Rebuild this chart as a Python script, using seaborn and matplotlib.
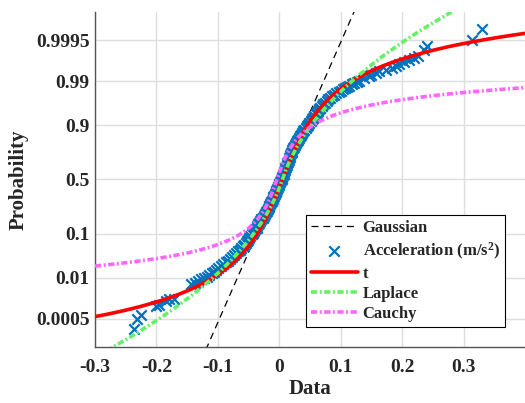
import math
from statistics import NormalDist
import numpy as np
import pandas as pd
import matplotlib
matplotlib.use("Agg")
import matplotlib.pyplot as plt
import seaborn as sns

# ---------------- data ----------------
# sorted acceleration samples (m/s^2) and their plotting probabilities
acc_values = [
    -0.237, -0.231, -0.225, -0.2005, -0.195, -0.184, -0.179, -0.171,
    -0.1436, -0.138, -0.133, -0.127, -0.118, -0.110, -0.103, -0.095,
    -0.087, -0.080, -0.073, -0.067, -0.062, -0.057, -0.053, -0.049,
    -0.045, -0.041, -0.037, -0.034, -0.031, -0.027, -0.024, -0.020,
    -0.017, -0.015, -0.012, -0.010, -0.007, -0.005, -0.002, 0.000,
    0.003, 0.005, 0.007, 0.009, 0.011, 0.013, 0.015, 0.017,
    0.019, 0.021, 0.024, 0.027, 0.030, 0.033, 0.037, 0.041,
    0.045, 0.049, 0.053, 0.057, 0.061, 0.065, 0.069, 0.074,
    0.080, 0.086, 0.093, 0.100, 0.107, 0.114, 0.122, 0.130,
    0.138, 0.146, 0.150, 0.157, 0.163, 0.1735, 0.184, 0.190,
    0.195, 0.203, 0.211, 0.2195, 0.225, 0.2358, 0.240, 0.3144, 0.3296,
]
acc_prob = [
    1.96e-4, 4.67e-4, 6.53e-4, 1.37e-3, 1.56e-3, 2.01e-3, 2.28e-3, 2.40e-3,
    6.57e-3, 7.34e-3, 8.20e-3, 9.14e-3, 0.01072, 0.01321, 0.01618, 0.02018,
    0.0250, 0.03074, 0.03754, 0.04457, 0.05262, 0.06178, 0.07215, 0.08379,
    0.0968, 0.1112, 0.1271, 0.1446, 0.1635, 0.1841, 0.2061, 0.2297,
    0.2546, 0.2810, 0.3085, 0.3372, 0.3669, 0.3974, 0.4286, 0.4602,
    0.4920, 0.5239, 0.5557, 0.5871, 0.6179, 0.6480, 0.6772, 0.7054,
    0.7324, 0.7580, 0.7823, 0.8051, 0.8264, 0.8461, 0.8643, 0.8810,
    0.8962, 0.9099, 0.9222, 0.9332, 0.9429, 0.9515, 0.9591, 0.9656,
    0.9713, 0.9756, 0.9793, 0.9821, 0.9846, 0.9868, 0.9887, 0.9901,
    0.9918, 0.9927, 0.99343, 0.99413, 0.99477, 0.99534, 0.99585, 0.99632,
    0.99674, 0.99728, 0.99772, 0.99799, 0.99822, 0.99893, 0.99918, 0.99953, 0.99982,
]
# further samples read along the dense central band
band_values = [
    -0.1225, -0.114, -0.1065, -0.099, -0.091, -0.0835, -0.0765, -0.070,
    -0.0645, -0.0595, -0.055, -0.051, -0.047, -0.043, -0.039, -0.0355,
    -0.0325, -0.029, -0.0255, -0.022, -0.0185, -0.016, -0.0135, -0.011,
    -0.0085, -0.006, -0.0035, -0.001, 0.0015, 0.004, 0.006, 0.008,
    0.010, 0.012, 0.014, 0.016, 0.018, 0.020, 0.0225, 0.0255,
    0.0285, 0.0315, 0.035, 0.039, 0.043, 0.047, 0.051, 0.055,
    0.059, 0.063, 0.067, 0.0715, 0.077, 0.083, 0.0895, 0.0965,
    0.1035, 0.1105, 0.118, 0.126,
]
band_prob = [
    0.0099, 0.01191, 0.01463, 0.01786, 0.02248, 0.02775, 0.0340, 0.04093,
    0.04846, 0.05705, 0.06681, 0.07780, 0.09012, 0.1038, 0.1190, 0.1357,
    0.1539, 0.1736, 0.1949, 0.2177, 0.2420, 0.2676, 0.2946, 0.3228,
    0.3520, 0.3821, 0.4129, 0.4443, 0.4761, 0.5080, 0.5398, 0.5714,
    0.6026, 0.6331, 0.6628, 0.6915, 0.7190, 0.7454, 0.7704, 0.7939,
    0.8159, 0.8365, 0.8554, 0.8729, 0.8888, 0.9032, 0.9162, 0.9279,
    0.9382, 0.9474, 0.9554, 0.9625, 0.9686, 0.9735, 0.9775, 0.9808,
    0.9834, 0.9857, 0.9878, 0.9894,
]

# fitted distribution parameters (estimated from the reference curves)
gauss_mu, gauss_sigma = 0.002, 0.0302
t_mu, t_sigma, t_nu = 0.005, 0.025, 3.0
laplace_mu, laplace_b = 0.005, 0.029
cauchy_x0, cauchy_gamma = -0.004, 0.019

x_ticks = [-0.3, -0.2, -0.1, 0, 0.1, 0.2, 0.3]
x_ticklabels = ["-0.3", "-0.2", "-0.1", "0", "0.1", "0.2", "0.3"]
y_ticks = [0.0005, 0.01, 0.1, 0.5, 0.9, 0.99, 0.9995]
y_ticklabels = ["0.0005", "0.01", "0.1", "0.5", "0.9", "0.99", "0.9995"]
legend_labels = ["Gaussian", "Acceleration (m/s$^2$)", "t", "Laplace", "Cauchy"]

# ---------------- distribution functions ----------------
_nd = NormalDist()


def _betacf(a, b, x):
    MAXIT, EPS, FPMIN = 300, 3e-16, 1e-300
    qab, qap, qam = a + b, a + 1.0, a - 1.0
    c = 1.0
    d = 1.0 - qab * x / qap
    if abs(d) < FPMIN:
        d = FPMIN
    d = 1.0 / d
    h = d
    for m in range(1, MAXIT + 1):
        m2 = 2 * m
        aa = m * (b - m) * x / ((qam + m2) * (a + m2))
        d = 1.0 + aa * d
        if abs(d) < FPMIN:
            d = FPMIN
        c = 1.0 + aa / c
        if abs(c) < FPMIN:
            c = FPMIN
        d = 1.0 / d
        h *= d * c
        aa = -(a + m) * (qab + m) * x / ((a + m2) * (qap + m2))
        d = 1.0 + aa * d
        if abs(d) < FPMIN:
            d = FPMIN
        c = 1.0 + aa / c
        if abs(c) < FPMIN:
            c = FPMIN
        d = 1.0 / d
        de = d * c
        h *= de
        if abs(de - 1.0) < EPS:
            break
    return h


def _betai(a, b, x):
    if x <= 0.0:
        return 0.0
    if x >= 1.0:
        return 1.0
    bt = math.exp(math.lgamma(a + b) - math.lgamma(a) - math.lgamma(b)
                  + a * math.log(x) + b * math.log(1.0 - x))
    if x < (a + 1.0) / (a + b + 2.0):
        return bt * _betacf(a, b, x) / a
    return 1.0 - bt * _betacf(b, a, 1.0 - x) / b


def t_cdf(x):
    out = []
    for xi in np.atleast_1d(x):
        t = (xi - t_mu) / t_sigma
        tail = 0.5 * _betai(t_nu / 2.0, 0.5, t_nu / (t_nu + t * t))
        out.append(1.0 - tail if t > 0 else tail)
    return np.array(out)


def gauss_cdf(x):
    return np.array([_nd.cdf((xi - gauss_mu) / gauss_sigma) for xi in x])


def laplace_cdf(x):
    x = np.asarray(x)
    u = (x - laplace_mu) / laplace_b
    return np.where(u < 0, 0.5 * np.exp(np.minimum(u, 0)), 1 - 0.5 * np.exp(-np.maximum(u, 0)))


def cauchy_cdf(x):
    return 0.5 + np.arctan((np.asarray(x) - cauchy_x0) / cauchy_gamma) / np.pi


_ppf = np.vectorize(lambda p: _nd.inv_cdf(p), otypes=[float])
_cdf = np.vectorize(lambda z: 0.5 * (1 + math.erf(z / math.sqrt(2))), otypes=[float])


def prob_fwd(p):
    p = np.clip(np.asarray(p, dtype=float), 1e-15, 1 - 1e-15)
    return _ppf(p)


def prob_inv(z):
    return _cdf(np.asarray(z, dtype=float))


# ---------------- style ----------------
sns.set_style("white")
plt.rcParams["font.family"] = ["Liberation Serif", "DejaVu Serif"]
plt.rcParams["font.weight"] = "bold"
plt.rcParams["mathtext.fontset"] = "custom"
plt.rcParams["mathtext.rm"] = "Liberation Serif:bold"
plt.rcParams["mathtext.it"] = "Liberation Serif:bold"
plt.rcParams["mathtext.bf"] = "Liberation Serif:bold"
plt.rcParams["mathtext.default"] = "rm"
plt.rcParams["lines.scale_dashes"] = False

fig = plt.figure(figsize=(5.25, 4.03), dpi=100)
ax = fig.add_axes([95 / 525, 56 / 403, 430 / 525, 335 / 403])
ax.set_yscale("function", functions=(prob_fwd, prob_inv))

xs = np.linspace(-0.3, 0.4, 700)
curves = pd.DataFrame({
    "x": xs,
    "gauss": gauss_cdf(xs),
    "t": t_cdf(xs),
    "laplace": laplace_cdf(xs),
    "cauchy": cauchy_cdf(xs),
})
pts = pd.DataFrame({"value": acc_values + band_values, "prob": acc_prob + band_prob})
pts = pts.sort_values("value")

blue = "#0072BD"
sns.lineplot(data=curves, x="x", y="gauss", ax=ax, color="black", lw=0.9,
             dashes=False, linestyle=(0, (5, 3.5)), zorder=2, label=legend_labels[0])
sns.scatterplot(data=pts, x="value", y="prob", ax=ax, marker="x", color=blue,
                s=56, linewidth=1.6, zorder=3, label=legend_labels[1])
sns.lineplot(data=curves, x="x", y="t", ax=ax, color="#ff0000", lw=2.6,
             zorder=4, label=legend_labels[2])
sns.lineplot(data=curves, x="x", y="laplace", ax=ax, color="#66f066", lw=2.6,
             linestyle=(0, (4.5, 1.8, 1.4, 1.8)), zorder=5, label=legend_labels[3])
sns.lineplot(data=curves, x="x", y="cauchy", ax=ax, color="#ff66ff", lw=2.6,
             linestyle=(0, (4.5, 1.8, 1.4, 1.8)), zorder=6, label=legend_labels[4])

ax.set_xlim(-0.3, 0.4)
ax.set_ylim(3.75e-5, 0.9999625)
ax.set_xticks(x_ticks)
ax.set_xticklabels(x_ticklabels)
ax.set_yticks(y_ticks)
ax.set_yticklabels(y_ticklabels)
ax.yaxis.set_minor_locator(matplotlib.ticker.NullLocator())
ax.xaxis.set_minor_locator(matplotlib.ticker.NullLocator())

ax.grid(True, color="#dedede", lw=1.0)
ax.set_axisbelow(True)
for s in ["top", "right"]:
    ax.spines[s].set_visible(False)
for s in ["left", "bottom"]:
    ax.spines[s].set_color("#555555")
    ax.spines[s].set_linewidth(1.0)
ax.tick_params(direction="in", length=4, width=0.8, color="#262626",
               labelsize=14, labelcolor="#262626")
ax.tick_params(axis="x", pad=9)
ax.tick_params(axis="y", pad=4)
for lab in ax.get_xticklabels() + ax.get_yticklabels():
    lab.set_fontweight("bold")

ax.set_xlabel("Data", fontsize=15, fontweight="bold", color="#262626", labelpad=2)
ax.set_ylabel("Probability", fontsize=15, fontweight="bold", color="#262626", labelpad=5)

leg = ax.legend(loc="lower right", bbox_to_anchor=(410 / 430, 20 / 335),
                borderaxespad=0, frameon=True, fancybox=False,
                edgecolor="black", framealpha=1, handlelength=2.8,
                handletextpad=0.3, labelspacing=0.25, borderpad=0.3,
                prop={"family": "Liberation Serif", "weight": "bold", "size": 12})
leg.get_frame().set_linewidth(0.8)

fig.savefig("out.png", dpi=100)
